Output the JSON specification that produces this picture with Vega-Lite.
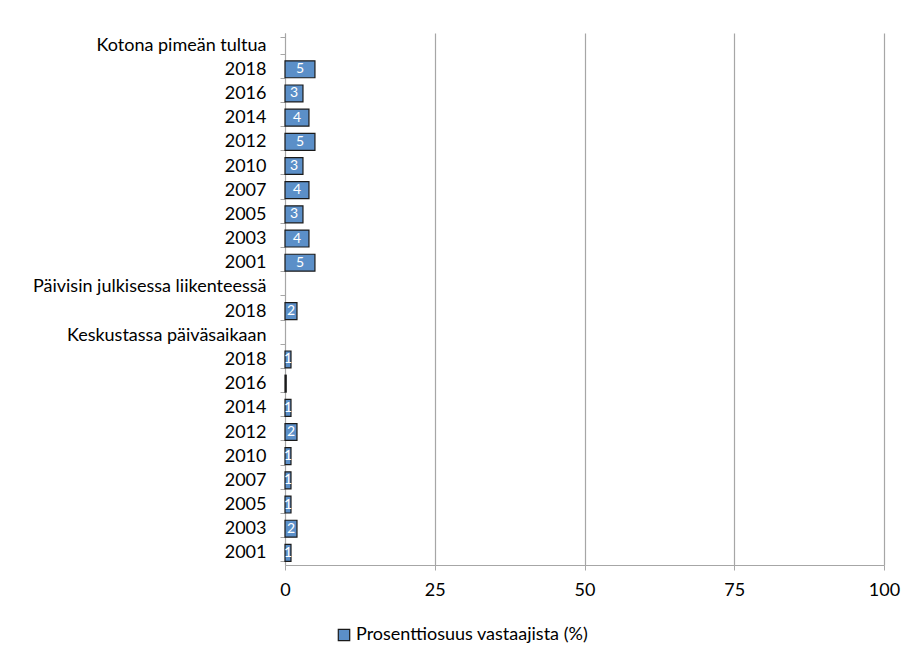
{
  "$schema": "https://vega.github.io/schema/vega-lite/v6.json",
  "width": 599,
  "height": 532,
  "autosize": "none",
  "padding": {"left": 285, "top": 33, "right": 35, "bottom": 103},
  "background": "white",
  "config": {
    "font": "Lato",
    "view": {"stroke": null}
  },
  "data": {
    "values": [
      {"key": "a|Kotona pimeän tultua", "value": null},
      {"key": "a2018|2018", "value": 5},
      {"key": "a2016|2016", "value": 3},
      {"key": "a2014|2014", "value": 4},
      {"key": "a2012|2012", "value": 5},
      {"key": "a2010|2010", "value": 3},
      {"key": "a2007|2007", "value": 4},
      {"key": "a2005|2005", "value": 3},
      {"key": "a2003|2003", "value": 4},
      {"key": "a2001|2001", "value": 5},
      {"key": "b|Päivisin julkisessa liikenteessä", "value": null},
      {"key": "b2018|2018", "value": 2},
      {"key": "c|Keskustassa päiväsaikaan", "value": null},
      {"key": "c2018|2018", "value": 1},
      {"key": "c2016|2016", "value": 0.2},
      {"key": "c2014|2014", "value": 1},
      {"key": "c2012|2012", "value": 2},
      {"key": "c2010|2010", "value": 1},
      {"key": "c2007|2007", "value": 1},
      {"key": "c2005|2005", "value": 1},
      {"key": "c2003|2003", "value": 2},
      {"key": "c2001|2001", "value": 1}
    ]
  },
  "encoding": {
    "y": {
      "field": "key",
      "type": "nominal",
      "sort": null,
      "scale": {
        "domain": [
          "a|Kotona pimeän tultua", "a2018|2018", "a2016|2016", "a2014|2014", "a2012|2012", "a2010|2010", "a2007|2007", "a2005|2005", "a2003|2003", "a2001|2001",
          "b|Päivisin julkisessa liikenteessä", "b2018|2018",
          "c|Keskustassa päiväsaikaan", "c2018|2018", "c2016|2016", "c2014|2014", "c2012|2012", "c2010|2010", "c2007|2007", "c2005|2005", "c2003|2003", "c2001|2001"
        ],
        "paddingInner": 0.3,
        "paddingOuter": 0.15
      },
      "axis": {
        "title": null,
        "labelExpr": "split(datum.label, '|')[1]",
        "labelFont": "Lato",
        "labelFontSize": 18,
        "labelColor": "#000000",
        "labelPadding": 14,
        "labelLimit": 300,
        "tickBand": "extent",
        "tickSize": 5,
        "tickColor": "#a6a6a6",
        "domainColor": "#a6a6a6",
        "grid": false
      }
    }
  },
  "layer": [
    {
      "mark": {"type": "bar", "stroke": "#1a1a1a", "strokeWidth": 1.2},
      "encoding": {
        "x": {
          "field": "value",
          "type": "quantitative",
          "scale": {"domain": [0, 100], "nice": false},
          "axis": {
            "title": null,
            "values": [0, 25, 50, 75, 100],
            "labelFont": "Lato",
            "labelFontSize": 18,
            "labelColor": "#000000",
            "labelPadding": 11,
            "labelFlush": false,
            "tickSize": 5,
            "tickColor": "#a6a6a6",
            "domainColor": "#a6a6a6",
            "grid": true,
            "gridColor": "#a6a6a6",
            "gridWidth": 1.2
          }
        },
        "fill": {
          "datum": "Prosenttiosuus vastaajista (%)",
          "type": "nominal",
          "scale": {"range": ["#5b8fc8"]},
          "legend": {
            "title": null,
            "orient": "none",
            "legendX": 50,
            "legendY": 593,
            "labelFont": "Lato",
            "labelFontSize": 18,
            "labelColor": "#000000",
            "labelLimit": 400,
            "symbolType": "square",
            "symbolSize": 130,
            "symbolStrokeColor": "#1a1a1a",
            "symbolStrokeWidth": 1.2,
            "labelOffset": 3
          }
        }
      }
    },
    {
      "transform": [
        {"filter": "datum.value != null && datum.value >= 0.5"},
        {"calculate": "datum.value / 2", "as": "mid"}
      ],
      "mark": {"type": "text", "color": "white", "fontSize": 14, "font": "Lato", "baseline": "middle", "align": "center"},
      "encoding": {
        "x": {"field": "mid", "type": "quantitative"},
        "text": {"field": "value", "type": "quantitative", "format": ".0f"}
      }
    }
  ]
}
